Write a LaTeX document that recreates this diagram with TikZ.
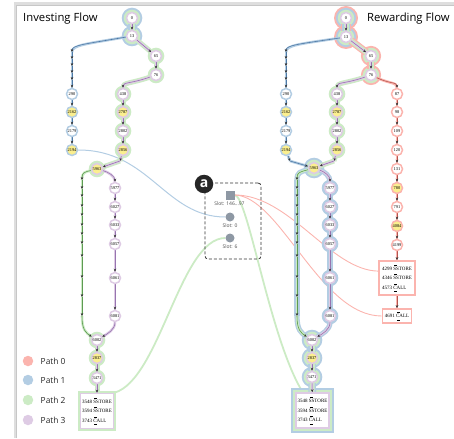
\documentclass[tikz,border=0pt]{standalone}
\usepackage{fontspec}
\setmainfont{Liberation Serif}
\newfontfamily\uifont{Open Sans}
\usetikzlibrary{arrows.meta}
\definecolor{c0L}{HTML}{FBB4AE}
\definecolor{c1L}{HTML}{B3CDE3}
\definecolor{c2L}{HTML}{CCEBC5}
\definecolor{c3L}{HTML}{DECBE4}
\definecolor{c0D}{HTML}{B5564F}
\definecolor{c1D}{HTML}{4F7AA6}
\definecolor{c2D}{HTML}{5E9B52}
\definecolor{c3D}{HTML}{9775B0}
\definecolor{hlY}{HTML}{FBEF8F}
\definecolor{slate}{HTML}{8E98A4}
\pgfdeclarelayer{halo}
\pgfdeclarelayer{edge}
\pgfsetlayers{halo,edge,main}
\newcommand\opmark[1]{\leavevmode\rlap{\kern1pt\raisebox{5.2pt}{\rule{3pt}{0.3pt}}}#1}
\newcommand\opmarkb[1]{\leavevmode\rlap{\kern1pt\raisebox{5.2pt}{\rule{3pt}{0.3pt}}}\rlap{\kern1pt\raisebox{-2.3pt}{\rule{3pt}{0.3pt}}}#1}
\begin{document}
\begin{tikzpicture}[x=1pt,y=-1pt,
  nd/.style={circle, fill=white, draw=#1, line width=1.5pt, minimum size=11pt, inner sep=0pt, font=\fontsize{4.4}{4.4}\selectfont},
  ndy/.style={nd=#1, fill=hlY},
  bx/.style={draw=#1, fill=white, line width=1.5pt, inner sep=1pt, minimum width=33pt, minimum height=35pt, align=left, font=\fontsize{5}{9.5}\selectfont},
  hl/.style 2 args={preaction={draw=#1, line width=#2, arrows=-}},
  cr/.style={draw=#1, line width=0.6pt, -{Stealth[length=3pt,width=2.6pt,color=black!80]}},
  E0/.style={hl={c0L}{2.6pt}, cr=c0D},
  E1/.style={hl={c1L}{2.6pt}, cr=c1D},
  E2/.style={hl={c2L}{2.6pt}, cr=c2D},
  E3/.style={hl={c3L}{2.6pt}, cr=c3D},
  E12/.style={hl={c1L}{5.2pt}, hl={c2L}{2.6pt}, cr=c2D},
  E13/.style={hl={c1L}{5.2pt}, hl={c3L}{2.6pt}, cr=c3D},
  E23/.style={hl={c2L}{5pt}, hl={c3L}{2.4pt}, cr=c3D},
  E123/.style={hl={c1L}{7.6pt}, hl={c2L}{5pt}, hl={c3L}{2.4pt}, cr=c3D},
  E023/.style={hl={c0L}{7.6pt}, hl={c2L}{5pt}, hl={c3L}{2.4pt}, cr=c3D},
  E0123/.style={hl={c0L}{10pt}, hl={c1L}{7.6pt}, hl={c2L}{5pt}, hl={c3L}{2.4pt}, cr=c3D},
  sl/.style 2 args={draw=#1, line width=#2},
  title/.style={anchor=base west, inner sep=0pt, font=\uifont\fontsize{11.3}{13}\selectfont},
  lgdot/.style={circle, fill=#1, minimum size=10.5pt, inner sep=0pt},
  lgtxt/.style={anchor=west, inner sep=0pt, font=\uifont\fontsize{8.4}{10}\selectfont, text=black!85},
  slottxt/.style={inner sep=0pt, font=\uifont\fontsize{5}{6}\selectfont, text=black!70},
]
\useasboundingbox (0,0) rectangle (454,438);
% frame shadow
\fill[black!13] (14,2.5) rectangle (454,5.5);
\fill[black!13] (14,2.5) rectangle (17,438);
\draw[black!22, line width=0.6pt] (16.7,438) -- (16.7,5.3) -- (454,5.3);

% titles
\node[title] (tL) at (23,21.7) {Investing Flow};
\node[title] (tR) at (367,21.7) {Rewarding Flow};

% ---------------- left graph nodes
\node[nd=c3L] (L0) at (132,18) {0};
\node[nd=c3L] (L13) at (132,36) {13};
\node[nd=c3L] (L65) at (156,56) {65};
\node[nd=c3L] (L76) at (156,75) {76};
\node[nd=c1L] (L290) at (72,94) {290};
\node[ndy=c1L] (L2162) at (72,112) {2162};
\node[nd=c1L] (L2179) at (72,131) {2179};
\node[ndy=c1L] (L2194) at (72,150) {2194};
\node[nd=c3L] (L438) at (123,94) {438};
\node[ndy=c3L] (L2787) at (123,112) {2787};
\node[nd=c3L] (L2802) at (123,131) {2802};
\node[ndy=c3L] (L2856) at (123,150) {2856};
\node[ndy=c3L] (L5963) at (97,169) {5963};
\node[nd=c3L] (L5977) at (115,188) {5977};
\node[nd=c3L] (L6027) at (115,207) {6027};
\node[nd=c3L] (L6033) at (115,225) {6033};
\node[nd=c3L] (L6057) at (115,244) {6057};
\node[nd=c3L] (L6061) at (115,278) {6061};
\node[nd=c3L] (L6081) at (115,316) {6081};
\node[nd=c3L] (L6002) at (97,340) {6002};
\node[ndy=c3L] (L2837) at (97,358) {2837};
\node[nd=c3L] (L3471) at (97,378) {3471};
\node[bx=c3L] (LB) at (97,411) {3548 \opmark{SSTORE}\\3594 \opmark{SSTORE}\\3743 \opmarkb{CALL}};
\coordinate (Lc1) at (72,52); \coordinate (Lc2) at (72,59); \coordinate (Lc3) at (72,66);
\coordinate (Lc4) at (72,73); \coordinate (Lc5) at (72,80);
\coordinate (Lb2) at (120,161);

% ---------------- right graph nodes
\node[nd=c3L] (R0) at (346,18) {0};
\node[nd=c3L] (R13) at (346,37) {13};
\node[nd=c3L] (R65) at (371,56) {65};
\node[nd=c3L] (R76) at (371,75) {76};
\node[nd=c1L] (R290) at (286,94) {290};
\node[ndy=c1L] (R2162) at (286,112) {2162};
\node[nd=c1L] (R2179) at (286,131) {2179};
\node[ndy=c1L] (R2194) at (286,150) {2194};
\node[nd=c3L] (R438) at (337,94) {438};
\node[ndy=c3L] (R2787) at (337,112) {2787};
\node[nd=c3L] (R2802) at (337,131) {2802};
\node[ndy=c3L] (R2856) at (337,150) {2856};
\node[nd=c0L] (R87) at (397,94) {87};
\node[nd=c0L] (R98) at (397,112) {98};
\node[nd=c0L] (R109) at (397,131) {109};
\node[nd=c0L] (R120) at (397,150) {120};
\node[nd=c0L] (R131) at (397,169) {131};
\node[ndy=c0L] (R780) at (397,188) {780};
\node[nd=c0L] (R791) at (397,207) {791};
\node[ndy=c0L] (R4084) at (397,226) {4084};
\node[nd=c0L] (R4199) at (397,245) {4199};
\node[bx=c0L, line width=1.8pt, minimum width=36pt, minimum height=34pt] (R4299) at (397,278) {4299 \opmark{SSTORE}\\4346 \opmark{SSTORE}\\4573 \opmarkb{CALL}};
\node[bx=c0L, line width=1.8pt, minimum width=29pt, minimum height=14pt] (R4691) at (397,316) {4691 \opmarkb{CALL}};
\node[ndy=c3L] (R5963) at (314,168) {5963};
\node[nd=c3L] (R5977) at (330,188) {5977};
\node[nd=c3L] (R6027) at (330,207) {6027};
\node[nd=c3L] (R6033) at (330,225) {6033};
\node[nd=c3L] (R6057) at (330,244) {6057};
\node[nd=c3L] (R6061) at (330,278) {6061};
\node[nd=c3L] (R6081) at (330,316) {6081};
\node[nd=c3L] (R6002) at (312,340) {6002};
\node[ndy=c3L] (R2837) at (312,358) {2837};
\node[nd=c3L] (R3471) at (312,377) {3471};
\node[bx=c3L] (RB) at (312.5,410.5) {3548 \opmark{SSTORE}\\3594 \opmark{SSTORE}\\3743 \opmarkb{CALL}};
\coordinate (Rc1) at (286,52); \coordinate (Rc2) at (286,59); \coordinate (Rc3) at (286,66);
\coordinate (Rc4) at (286,73); \coordinate (Rc5) at (286,80);
\coordinate (Rb1) at (290,161);
\coordinate (Rb2) at (334,161);
\foreach \yy [count=\i] in {180,189,197,207,216,226,235,244,257,278,297,316} {
  \coordinate (Lg\i) at (82,\yy);
  \coordinate (Rg\i) at (297,\yy);
}

% ---------------- centre group
\node[draw=black!80, dash pattern=on 3pt off 2pt, line width=0.8pt, rounded corners=3pt, minimum width=56pt, minimum height=76pt] (grp) at (233,221) {};
\node[fill=slate, minimum size=9pt, inner sep=0pt] (SQ) at (230,195) {};
\node[slottxt] (tSQ) at (229.5,204) {Slot: 146...97};
\node[circle, fill=slate, minimum size=9pt, inner sep=0pt] (S0) at (230,217) {};
\node[slottxt] (tS0) at (230,226) {Slot: 0};
\node[circle, fill=slate, minimum size=9pt, inner sep=0pt] (S6) at (230,238) {};
\node[slottxt] (tS6) at (230,247) {Slot: 6};
\node[circle, fill=black!85, minimum size=18.5pt, inner sep=0pt, text=white, font=\uifont\bfseries\fontsize{14}{14}\selectfont] (badge) at (204,184) {a};

% ---------------- legend
\node[lgdot=c0L] (g0) at (28,361) {}; \node[lgtxt] (gt0) at (40.5,361) {Path 0};
\node[lgdot=c1L] (g1) at (28,380) {}; \node[lgtxt] (gt1) at (40.5,380) {Path 1};
\node[lgdot=c2L] (g2) at (28,400) {}; \node[lgtxt] (gt2) at (40.5,400) {Path 2};
\node[lgdot=c3L] (g3) at (28,420) {}; \node[lgtxt] (gt3) at (40.5,420) {Path 3};

% ---------------- halo layer: slot links + node halos
\begin{pgfonlayer}{halo}
\draw[sl={c1L}{1pt}] (L2194.east) .. controls (150,150) and (165,217) .. (S0.west);
\draw[sl={c2L}{1.8pt}] (LB.north east) .. controls (160,380) and (180,238) .. (S6.west);
\draw[sl={c2L}{1.8pt}] (SQ.east) .. controls (248,196) and (270,340) .. (RB.118);
\draw[sl={c0L}{0.9pt}] (SQ.east) .. controls (290,195) and (330,270) .. (R4299.160);
\draw[sl={c0L}{0.9pt}] (SQ.east) .. controls (280,196) and (320,316) .. (R4691.west);
% left halos
\foreach \n in {L0,L13} {\fill[c1L] (\n) circle[radius=10.3pt]; \fill[c2L] (\n) circle[radius=8.3pt];}
\foreach \n in {L65,L76,L438,L2787,L2802,L2856,L5963,L6002,L2837,L3471} {\fill[c2L] (\n) circle[radius=8.3pt];}
\fill[c2L] ([shift={(-2.2pt,2.2pt)}]LB.north west) rectangle ([shift={(2.2pt,-2.2pt)}]LB.south east);
% right halos
\foreach \n in {R0,R13} {\fill[c0L] (\n) circle[radius=12pt]; \fill[c1L] (\n) circle[radius=10.1pt]; \fill[c2L] (\n) circle[radius=8.2pt];}
\foreach \n in {R65,R76} {\fill[c0L] (\n) circle[radius=10.1pt]; \fill[c2L] (\n) circle[radius=8.2pt];}
\foreach \n in {R438,R2787,R2802,R2856} {\fill[c2L] (\n) circle[radius=8.3pt];}
\foreach \n in {R5963,R6002,R2837,R3471} {\fill[c1L] (\n) circle[radius=10.3pt]; \fill[c2L] (\n) circle[radius=8.3pt];}
\foreach \n in {R5977,R6027,R6033,R6057,R6061,R6081} {\fill[c1L] (\n) circle[radius=8.3pt];}
\fill[c1L] ([shift={(-4.4pt,4.4pt)}]RB.north west) rectangle ([shift={(4.4pt,-4.4pt)}]RB.south east);
\fill[c2L] ([shift={(-2.2pt,2.2pt)}]RB.north west) rectangle ([shift={(2.2pt,-2.2pt)}]RB.south east);
\end{pgfonlayer}

% ---------------- edges
\begin{pgfonlayer}{edge}
% left
\draw[E123] (L0) -- (L13);
\draw[E1] (L13) .. controls (86,44) and (72,45) .. (Lc1);
\draw[E1] (Lc1) -- (Lc2); \draw[E1] (Lc2) -- (Lc3); \draw[E1] (Lc3) -- (Lc4); \draw[E1] (Lc4) -- (Lc5);
\draw[E1] (Lc5) -- (L290);
\draw[E1] (L290) -- (L2162); \draw[E1] (L2162) -- (L2179); \draw[E1] (L2179) -- (L2194);
\draw[E23] (L13) -- (L65);
\draw[E23] (L65) -- (L76);
\draw[E23] (L76) .. controls (130,84) and (123,82) .. (L438);
\draw[E23] (L438) -- (L2787); \draw[E23] (L2787) -- (L2802); \draw[E23] (L2802) -- (L2856);
\draw[E23] (L2856) -- (Lb2); \draw[E23] (Lb2) -- (L5963);
\draw[E2] (L5963) .. controls (85,172) and (82,172) .. (Lg1);
\foreach \i [count=\j from 2] in {1,...,11} {\draw[E2] (Lg\i) -- (Lg\j);}
\draw[E2] (Lg12) .. controls (82,330) and (86,333) .. (L6002);
\draw[E3] (L5963) .. controls (108,172) and (115,176) .. (L5977);
\draw[E3] (L5977) -- (L6027); \draw[E3] (L6027) -- (L6033); \draw[E3] (L6033) -- (L6057);
\draw[E3] (L6057) -- (L6061); \draw[E3] (L6061) -- (L6081);
\draw[E3] (L6081) .. controls (115,330) and (107,334) .. (L6002);
\draw[E23] (L6002) -- (L2837); \draw[E23] (L2837) -- (L3471); \draw[E23] (L3471) -- (LB);
% right
\draw[E0123] (R0) -- (R13);
\draw[E1] (R13) .. controls (300,44) and (286,45) .. (Rc1);
\draw[E1] (Rc1) -- (Rc2); \draw[E1] (Rc2) -- (Rc3); \draw[E1] (Rc3) -- (Rc4); \draw[E1] (Rc4) -- (Rc5);
\draw[E1] (Rc5) -- (R290);
\draw[E1] (R290) -- (R2162); \draw[E1] (R2162) -- (R2179); \draw[E1] (R2179) -- (R2194);
\draw[E1] (R2194) -- (Rb1); \draw[E1] (Rb1) -- (R5963);
\draw[E023] (R13) -- (R65);
\draw[E023] (R65) -- (R76);
\draw[E23] (R76) .. controls (345,84) and (337,82) .. (R438);
\draw[E23] (R438) -- (R2787); \draw[E23] (R2787) -- (R2802); \draw[E23] (R2802) -- (R2856);
\draw[E23] (R2856) -- (Rb2); \draw[E23] (Rb2) -- (R5963);
\draw[E0] (R76) .. controls (390,84) and (397,82) .. (R87);
\draw[E0] (R87) -- (R98); \draw[E0] (R98) -- (R109); \draw[E0] (R109) -- (R120);
\draw[E0] (R120) -- (R131); \draw[E0] (R131) -- (R780); \draw[E0] (R780) -- (R791);
\draw[E0] (R791) -- (R4084); \draw[E0] (R4084) -- (R4199); \draw[E0] (R4199) -- (R4299);
\draw[E0] (R4299) -- (R4691);
\draw[E12] (R5963) .. controls (300,172) and (297,172) .. (Rg1);
\foreach \i [count=\j from 2] in {1,...,11} {\draw[E12] (Rg\i) -- (Rg\j);}
\draw[E12] (Rg12) .. controls (297,330) and (301,333) .. (R6002);
\draw[E13] (R5963) .. controls (325,172) and (330,176) .. (R5977);
\draw[E13] (R5977) -- (R6027); \draw[E13] (R6027) -- (R6033); \draw[E13] (R6033) -- (R6057);
\draw[E13] (R6057) -- (R6061); \draw[E13] (R6061) -- (R6081);
\draw[E13] (R6081) .. controls (330,330) and (322,334) .. (R6002);
\draw[E123] (R6002) -- (R2837); \draw[E123] (R2837) -- (R3471); \draw[E123] (R3471) -- (RB);
\end{pgfonlayer}
\end{tikzpicture}
\end{document}
